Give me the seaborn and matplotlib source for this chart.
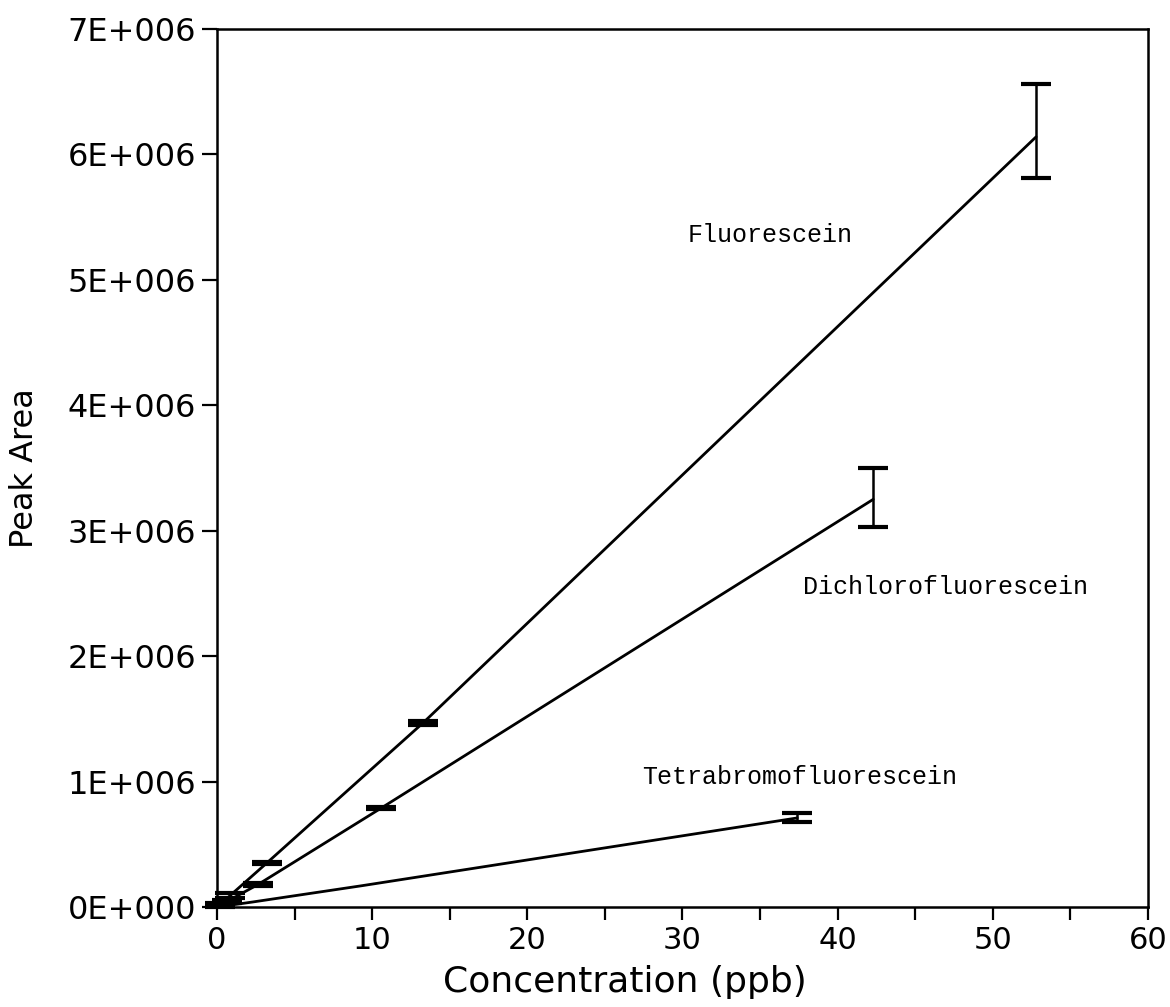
import matplotlib
matplotlib.use("Agg")
import matplotlib.pyplot as plt
import seaborn as sns
import pandas as pd
import numpy as np
from matplotlib.ticker import MultipleLocator

# Calibration data: concentration (ppb) vs. peak area, with error bar extents
fluor_conc = [0.0, 0.21, 0.83, 3.2, 13.3, 52.8]
fluor_area = [0.0, 0.02e6, 0.09e6, 0.35e6, 1.47e6, 6.14e6]
fluor_err_lo = [0.0, 0.01e6, 0.02e6, 0.01e6, 0.015e6, 0.33e6]
fluor_err_hi = [0.0, 0.01e6, 0.02e6, 0.01e6, 0.015e6, 0.42e6]

dichloro_conc = [0.0, 0.17, 0.66, 2.65, 10.6, 42.3]
dichloro_area = [0.0, 0.01e6, 0.045e6, 0.18e6, 0.79e6, 3.25e6]
dichloro_err_lo = [0.0, 0.01e6, 0.01e6, 0.01e6, 0.01e6, 0.22e6]
dichloro_err_hi = [0.0, 0.01e6, 0.01e6, 0.01e6, 0.01e6, 0.25e6]

tetra_conc = [0.0, 0.58, 2.3, 9.35, 37.4]
tetra_area = [0.0, 0.01e6, 0.04e6, 0.17e6, 0.71e6]
tetra_err_lo = [0.0, 0.0, 0.0, 0.0, 0.03e6]
tetra_err_hi = [0.0, 0.0, 0.0, 0.0, 0.04e6]

series_names = ["Fluorescein", "Dichlorofluorescein", "Tetrabromofluorescein"]
label_x = [30.35, 37.8, 27.4]
label_y = [5.36e6, 2.55e6, 1.04e6]

y_ticks = [0, 1e6, 2e6, 3e6, 4e6, 5e6, 6e6, 7e6]
y_tick_labels = ["0E+000", "1E+006", "2E+006", "3E+006",
                 "4E+006", "5E+006", "6E+006", "7E+006"]
x_ticks = [0, 10, 20, 30, 40, 50, 60]

sns.set_style("ticks")
plt.rcParams["font.family"] = ["DejaVu Sans"]
plt.rcParams["text.color"] = "black"
plt.rcParams["axes.labelcolor"] = "black"

frames = []
for name, c, a in zip(series_names,
                      [fluor_conc, dichloro_conc, tetra_conc],
                      [fluor_area, dichloro_area, tetra_area]):
    frames.append(pd.DataFrame({"Concentration": c, "Area": a, "Dye": name}))
df = pd.concat(frames, ignore_index=True)

fig = plt.figure(figsize=(11.7, 10.07), dpi=100)
ax = fig.add_axes([0.1855, 0.0993, 0.7955, 0.8719])

sns.lineplot(data=df, x="Concentration", y="Area", hue="Dye",
             palette=["black"] * 3, linewidth=2.0, legend=False,
             sort=False, estimator=None, ax=ax)

# error bars only where a spread was measured
for c, a, lo, hi in [(fluor_conc, fluor_area, fluor_err_lo, fluor_err_hi),
                     (dichloro_conc, dichloro_area, dichloro_err_lo, dichloro_err_hi),
                     (tetra_conc, tetra_area, tetra_err_lo, tetra_err_hi)]:
    c = np.array(c); a = np.array(a); lo = np.array(lo); hi = np.array(hi)
    keep = (lo + hi) > 0
    err = np.vstack([lo[keep], hi[keep]])
    ax.errorbar(c[keep], a[keep], yerr=err, fmt="none", ecolor="black",
                elinewidth=1.8, capsize=11, capthick=3.0, clip_on=False)

for name, x, y in zip(series_names, label_x, label_y):
    ax.text(x, y, name, fontsize=18, family=["Liberation Mono", "DejaVu Sans Mono"],
            ha="left", va="center", color="black")

ax.set_xlim(0, 60)
ax.set_ylim(0, 7e6)
ax.set_xticks(x_ticks)
ax.set_xticklabels([str(t) for t in x_ticks])
ax.xaxis.set_minor_locator(MultipleLocator(5))
ax.set_yticks(y_ticks)
ax.set_yticklabels(y_tick_labels)

ax.tick_params(axis="y", which="major", direction="out", length=11, width=1.6,
               labelsize=23, pad=4, colors="black")
ax.tick_params(axis="x", which="both", direction="out", length=9, width=1.6,
               labelsize=22, pad=5, colors="black")

for side in ["left", "right", "top", "bottom"]:
    ax.spines[side].set_visible(True)
    ax.spines[side].set_linewidth(1.8)
    ax.spines[side].set_color("black")

ax.set_xlabel("Concentration (ppb)", fontsize=26, color="black")
ax.set_ylabel("Peak Area", fontsize=23, color="black")
ax.xaxis.set_label_coords(0.438, -0.066)
ax.yaxis.set_label_coords(-0.19, 0.5)

fig.savefig("out.png", dpi=100, facecolor="white")
